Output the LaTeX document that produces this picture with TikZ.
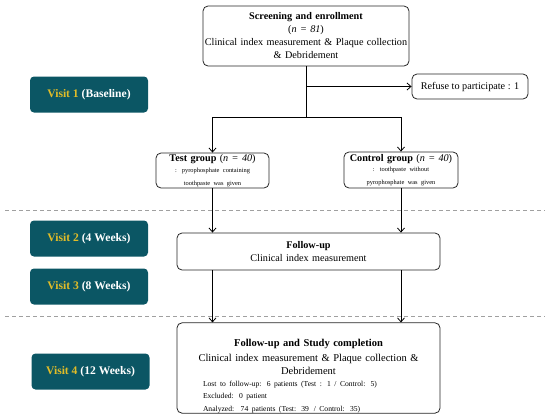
\documentclass[tikz,border=0pt]{standalone}
\usepackage{fontspec}
\setmainfont{Liberation Serif}
\usetikzlibrary{arrows.meta}

\definecolor{visitteal}{RGB}{11,86,100}
\definecolor{visitgold}{RGB}{225,188,40}
\definecolor{sepgray}{RGB}{160,160,160}
\newcommand{\subtext}{\fontsize{6.4}{9.6}\selectfont}
\newcommand{\listtext}{\fontsize{7.6}{11.6}\selectfont}

\tikzset{
  box/.style={draw=black!85, line width=0.8pt, rounded corners=5pt, inner sep=0pt,
    align=center, font=\fontsize{10.2}{13}\selectfont},
  visit/.style={fill=visitteal, rounded corners=4pt, inner sep=0pt,
    minimum width=118pt, minimum height=36pt, text=white,
    font=\bfseries\fontsize{11.6}{13}\selectfont},
  sep/.style={draw=sepgray, line width=0.8pt, dash pattern=on 4pt off 3pt},
}

\begin{document}
\begin{tikzpicture}[x=1pt, y=-1pt, >={Straight Barb[length=4pt,width=7pt]}, line width=0.8pt]
        \useasboundingbox (0,0) rectangle (550,416);

        % Visit labels
        \node[visit] (V1) at (89,94.5) {\textcolor{visitgold}{Visit 1} (Baseline)};
        \node[visit] (V2) at (89,238.5) {\textcolor{visitgold}{Visit 2} (4 Weeks)};
        \node[visit] (V3) at (89,286.5) {\textcolor{visitgold}{Visit 3} (8 Weeks)};
        \node[visit] (V4) at (90.5,371.5) {\textcolor{visitgold}{Visit 4} (12 Weeks)};

        % Enrollment
        \node[box, minimum width=206pt, minimum height=60pt, text width=206pt] (Scr) at (306,36)
            {\textbf{Screening and enrollment}\par
             (\textit{n = 81})\par
             Clinical index measurement \& Plaque collection\par
             \& Debridement};
        \node[box, minimum width=116pt, minimum height=25pt] (Ref) at (470,86.5)
            {Refuse to participate : 1};
        \coordinate (Split) at (306,117);

        % Groups
        \node[box, minimum width=113pt, minimum height=35pt, text width=113pt] (Test) at (212.5,170.5)
            {\textbf{Test group} (\textit{n = 40})\par\vspace{1pt}
             \subtext : pyrophosphate containing\\ toothpaste was given};
        \node[box, minimum width=114pt, minimum height=36pt, text width=114pt] (Ctrl) at (401,170)
            {\textbf{Control group} (\textit{n = 40})\par\vspace{1pt}
             \subtext : toothpaste without\\ pyrophosphate was given};

        % Follow-up and completion
        \node[box, minimum width=263pt, minimum height=37pt, text width=263pt] (FU) at (308.5,251.5)
            {\textbf{Follow-up}\par Clinical index measurement};
        \node[box, minimum width=263pt, minimum height=88pt, text width=211pt, align=left,
              font=\fontsize{10.5}{13.5}\selectfont] (End) at (308.5,368)
            {\vspace*{10pt}
             \makebox[211pt]{\bfseries Follow-up and Study completion}\par\vspace{1.5pt}
             \makebox[211pt]{Clinical index measurement \& Plaque collection \&}\par
             \makebox[211pt]{Debridement}\par
             \listtext Lost to follow-up: 6 patients (Test : 1 / Control: 5)\par
             Excluded: 0 patient\par
             Analyzed: \,74 patients (Test: 39 \,/ Control: 35)};

        % Separators
        \draw[sep] (5,210) -- (545,210);
        \draw[sep] (5,316) -- (545,316);

        % Flow edges
        \draw (Scr) -- (Split);
        \draw[->] (Scr.south |- Ref) -- (Ref);
        \draw[->] (Split) -| (Test);
        \draw[->] (Split) -| (Ctrl);
        \draw[->] (Test) -- (Test |- FU.north);
        \draw[->] (Ctrl) -- (Ctrl |- FU.north);
        \draw[->] (Test |- FU.south) -- (Test |- End.north);
        \draw[->] (Ctrl |- FU.south) -- (Ctrl |- End.north);

\end{tikzpicture}
\end{document}
